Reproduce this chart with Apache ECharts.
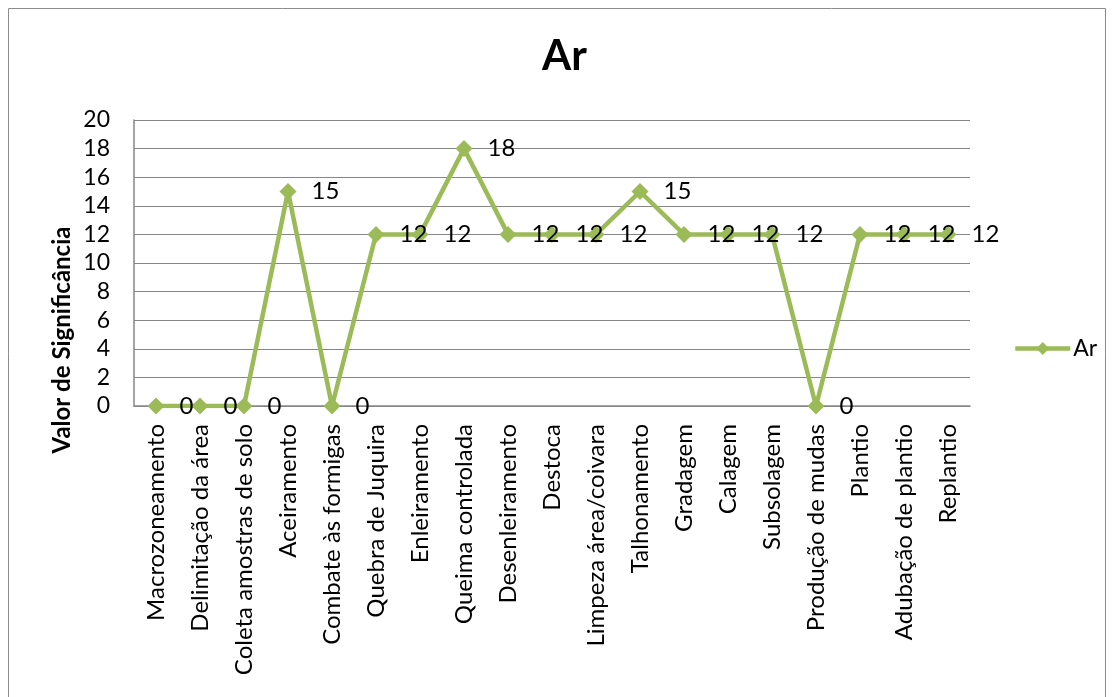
<!DOCTYPE html>
<html><head><meta charset="utf-8">
<script src="https://cdn.jsdelivr.net/npm/echarts@6/dist/echarts.min.js"></script>
<style>html,body{margin:0;padding:0;background:#fff}#c{width:1114px;height:697px}</style>
</head><body><div id="c"></div>
<script>
const categories = ["Macrozoneamento","Delimitação da área","Coleta amostras de solo","Aceiramento","Combate às formigas","Quebra de Juquira","Enleiramento","Queima controlada","Desenleiramento","Destoca","Limpeza área/coivara","Talhonamento","Gradagem","Calagem","Subsolagem","Produção de mudas","Plantio","Adubação de plantio","Replantio"];
const arValues = [0,0,0,15,0,12,12,18,12,12,12,15,12,12,12,0,12,12,12];
const yTicks = [0,2,4,6,8,10,12,14,16,18,20];
const FONT = "Lato, 'Open Sans', sans-serif";
const chart = echarts.init(document.getElementById('c'));
chart.setOption({
  animation: false,
  backgroundColor: '#fff',
  title: { text: 'Ar', left: 537, top: 30, textStyle: { fontFamily: FONT, fontSize: 42, fontWeight: 'bold', color: '#000' } },
  graphic: [
    { type: 'rect', shape: { x: 8.5, y: 8.5, width: 1097, height: 700 }, style: { fill: 'none', stroke: '#8c8c8c', lineWidth: 1 }, silent: true },
    { type: 'text', x: 62, y: 340, rotation: Math.PI / 2, style: { text: 'Valor de Significância', fontFamily: FONT, fontSize: 24, fontWeight: 'bold', fill: '#000', align: 'center', verticalAlign: 'middle' } }
  ],
  legend: { show: true, left: 1013, top: 337, padding: 0, orient: 'vertical', itemWidth: 55, itemHeight: 16, itemGap: 4,
    lineStyle: { width: 4.5, color: '#9BBB59' }, itemStyle: { color: '#9BBB59' },
    textStyle: { fontFamily: FONT, fontSize: 23, color: '#000', padding: [0, 0, 0, -2] }, data: ['Ar'] },
  grid: { left: 134, right: 144, top: 120, bottom: 291 },
  xAxis: {
    type: 'category', data: categories, boundaryGap: true,
    axisLine: { lineStyle: { color: '#868686', width: 1.5 } },
    axisTick: { show: false },
    axisLabel: { rotate: 90, interval: 0, fontFamily: FONT, fontSize: 24, color: '#000', margin: 18 }
  },
  yAxis: {
    type: 'value', min: 0, max: 20, interval: 2,
    axisLine: { show: true, lineStyle: { color: '#868686', width: 1.5 } },
    axisTick: { show: false },
    splitLine: { lineStyle: { color: '#868686', width: 1.2 } },
    axisLabel: { fontFamily: FONT, fontSize: 23, color: '#000', margin: 24, formatter: v => yTicks.includes(v) ? String(v) : '' }
  },
  series: [{
    name: 'Ar', type: 'line', data: arValues,
    symbol: 'diamond', symbolSize: 17,
    lineStyle: { color: '#9BBB59', width: 4.5 },
    itemStyle: { color: '#9BBB59' },
    label: { show: true, position: 'right', distance: 15, fontFamily: FONT, fontSize: 24, color: '#000' }
  }]
});
</script></body></html>
